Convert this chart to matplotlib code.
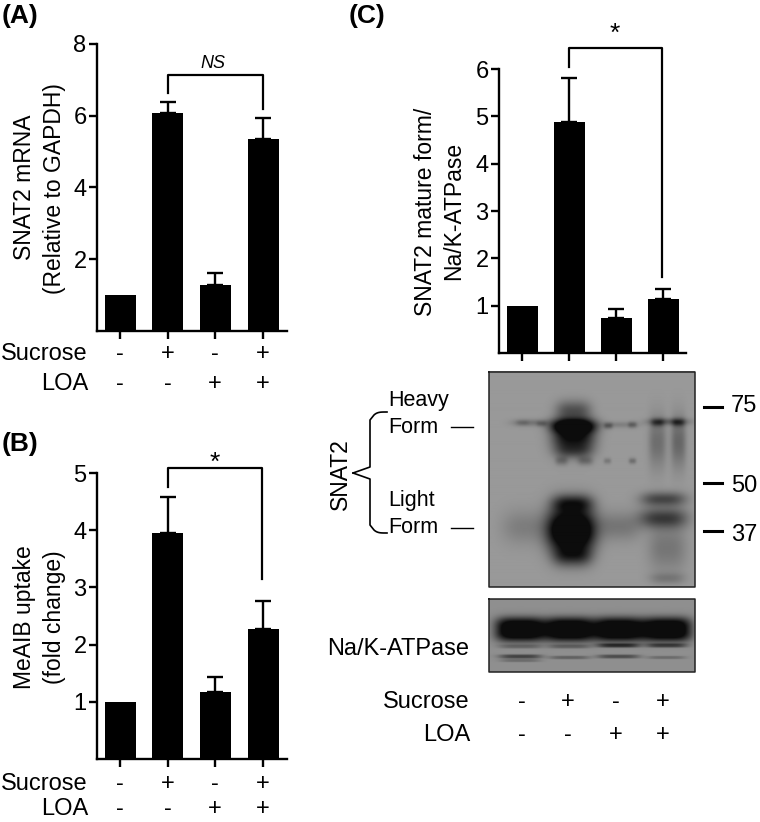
import matplotlib
matplotlib.use('Agg')
import matplotlib.pyplot as plt
import numpy as np

plt.rcParams['font.family'] = ['Liberation Sans', 'DejaVu Sans']

W, H = 760, 822
FS = 17

# bar values
mrna = [1, 6.07, 1.27, 5.35]
mrna_err = [0, 0.31, 0.36, 0.58]
uptake = [1, 3.95, 1.18, 2.28]
uptake_err = [0, 0.63, 0.25, 0.49]
mature = [1, 4.88, 0.73, 1.15]
mature_err = [0, 0.94, 0.19, 0.20]

sucrose = ['-', '+', '-', '+']
loa = ['-', '-', '+', '+']

# blot bands: x, y, sx, sy, darkness (pixels of the reference)
snat_bands = [
    (530, 423, 15, 2.5, 0.14), (522, 423, 5, 2, 0.07), (541, 424, 4, 2, 0.1),
    (573, 426, 18, 5, 0.65), (573, 438, 17, 10, 0.55), (573, 411, 14, 7, 0.28),
    (561, 461, 5, 3, 0.15), (585, 461, 6, 3, 0.15), (573, 452, 15, 5, 0.18),
    (620, 425, 15, 2.2, 0.1), (608, 426, 3.5, 2.2, 0.18), (632, 425, 3.5, 2.2, 0.16),
    (607, 461, 3, 2, 0.13), (632, 461, 3, 2, 0.17),
    (668, 422, 17, 2.5, 0.22), (657, 423, 5, 3, 0.18), (678, 423, 5, 3, 0.18),
    (657, 442, 7, 18, 0.17), (678, 442, 6, 18, 0.2),
    (527, 527, 20, 12, 0.11),
    (571, 530, 19, 16, 0.85), (572, 503, 16, 6, 0.36), (572, 556, 15, 7, 0.3),
    (618, 526, 18, 10, 0.14),
    (663, 499, 18, 5, 0.32), (663, 518, 19, 7, 0.36),
    (667, 548, 15, 16, 0.14), (667, 578, 14, 4, 0.12),
]
atpase_bands = [
    (520, 629, 21, 9.5, 0.7), (569, 629, 21, 9.5, 0.7),
    (618, 629, 21, 9.5, 0.7), (666, 629, 21, 9.5, 0.7),
    (520, 646, 18, 1.6, 0.14), (569, 646, 18, 1.6, 0.16),
    (618, 645, 18, 1.7, 0.34), (666, 645, 17, 1.7, 0.28),
    (520, 656, 18, 1.7, 0.3), (569, 657, 17, 1.4, 0.18),
    (618, 656, 18, 1.6, 0.26), (666, 657, 16, 1.3, 0.14),
    (520, 660, 17, 1.3, 0.14),
]


def bar_panel(left, right, top, bottom, centres, vals, errs, ymax, yticks):
    ax = fig.add_axes([left / W, 1 - bottom / H, (right - left) / W, (bottom - top) / H])
    step = (centres[-1] - centres[0]) / 3
    ax.set_xlim((left - centres[0]) / step, (right - centres[0]) / step)
    ax.set_ylim(0, ymax)
    x = np.arange(4)
    ax.bar(x, vals, width=31 / step, color='black')
    ax.errorbar(x[1:], vals[1:], yerr=[np.zeros(3), errs[1:]], fmt='none', ecolor='black',
                elinewidth=1.7, capsize=6, capthick=1.7)
    ax.spines['top'].set_visible(False)
    ax.spines['right'].set_visible(False)
    ax.spines['left'].set_linewidth(1.7)
    ax.spines['bottom'].set_linewidth(1.7)
    ax.set_xticks(x)
    ax.set_xticklabels([])
    ax.set_yticks(yticks)
    ax.tick_params(axis='both', width=1.7, length=5.5, labelsize=FS, pad=2)
    ax.patch.set_alpha(0)
    return ax


def blot(bands, x0, x1, y0, y1, base, xpower, ypower):
    xx, yy = np.meshgrid(np.arange(x0, x1), np.arange(y0, y1))
    img = np.full(xx.shape, base, dtype=float)
    for cx, cy, sx, sy, amp in bands:
        img -= amp * np.exp(-(np.abs((xx - cx) / sx) ** xpower + np.abs((yy - cy) / sy) ** ypower) / 2)
    img = np.clip(img, 0.05, 1)
    over.imshow(img, cmap='gray', vmin=0, vmax=1, extent=[x0, x1, y1, y0], aspect='auto',
                interpolation='bilinear', zorder=1)
    over.plot([x0, x1, x1, x0, x0], [y0, y0, y1, y1, y0], color='#222222', lw=1.1, zorder=2)


def bracket(x0, x1, top, y_left, y_right):
    over.plot([x0, x0, x1, x1], [y_left, top, top, y_right], color='black', lw=1.6,
              solid_joinstyle='round')


def rows(centres, y1, y2, right):
    over.text(right, y1, 'Sucrose', ha='right', va='center', fontsize=17)
    over.text(right, y2, 'LOA', ha='right', va='center', fontsize=17)
    for c, s, l in zip(centres, sucrose, loa):
        over.text(c, y1, s, ha='center', va='center', fontsize=17)
        over.text(c, y2, l, ha='center', va='center', fontsize=17)


fig = plt.figure(figsize=(W / 100, H / 100), dpi=100)

centres_ab = [120, 168, 215, 263]
centres_c = [522, 568, 616, 663]

bar_panel(97, 287, 44, 331, centres_ab, mrna, mrna_err, 8, [2, 4, 6, 8])
bar_panel(97, 287, 473, 759, centres_ab, uptake, uptake_err, 5, [1, 2, 3, 4, 5])
bar_panel(499, 686, 69, 353, centres_c, mature, mature_err, 6, [1, 2, 3, 4, 5, 6])

over = fig.add_axes([0, 0, 1, 1], zorder=5)
over.patch.set_alpha(0)
over.axis('off')

blot(snat_bands, 489, 695, 372, 587, 0.60, 3, 2)
blot(atpase_bands, 489, 695, 599, 672, 0.56, 4, 3)

over.set_xlim(0, W)
over.set_ylim(H, 0)

# panel letters
for txt, x, y in [('(A)', 2, 16), ('(B)', 2, 444), ('(C)', 349, 16)]:
    over.text(x, y, txt, fontweight='bold', fontsize=19, va='center')

# axis titles
for txt, x, y in [('SNAT2 mRNA', 25, 187), ('(Relative to GAPDH)', 54, 189),
                  ('MeAIB uptake', 25, 617), ('(fold change)', 54, 617),
                  ('SNAT2 mature form/', 426, 212), ('Na/K-ATPase', 454, 211),
                  ('SNAT2', 340, 474)]:
    over.text(x, y, txt, rotation=90, ha='center', va='center', fontsize=16.5)

rows(centres_ab, 354, 384, 88)
rows(centres_ab, 784, 809, 88)
rows(centres_c, 702, 735, 470)

# significance brackets
bracket(168, 263, 75, 93, 109)
over.text(213, 63, 'NS', style='italic', ha='center', va='center', fontsize=13)
bracket(168, 262, 468, 487, 579)
over.text(215, 463, '*', ha='center', va='center', fontsize=19)
bracket(569, 662, 48, 67, 277)
over.text(615, 34, '*', ha='center', va='center', fontsize=19)

# blot annotations
for txt, y in [('Heavy', 400), ('Form', 427), ('Light', 500), ('Form', 527)]:
    over.text(388, y, txt, va='center', fontsize=15.5)
over.text(327, 649, 'Na/K-ATPase', va='center', fontsize=17)
for y in [427, 528]:
    over.plot([451, 473], [y, y], color='black', lw=1)

# curly brace next to SNAT2
t = np.linspace(0, 1, 12)
over.plot(np.r_[387 - 13 * t ** 0.5, 370, 370, 353], np.r_[412 + 3 * t ** 2, 420, 467, 473],
          color='black', lw=1.2)
over.plot(np.r_[353, 370, 370, 387 - 13 * t[::-1] ** 0.5], np.r_[473, 479, 525, 533 - 3 * t[::-1] ** 2],
          color='black', lw=1.2)

# molecular weight marks
for txt, y, tick_y in [('75', 406, 407), ('50', 486, 483), ('37', 535, 531)]:
    over.plot([704, 722], [tick_y, tick_y], color='black', lw=2.2)
    over.text(731, y, txt, va='center', fontsize=17)

fig.savefig('out.png', dpi=100)
